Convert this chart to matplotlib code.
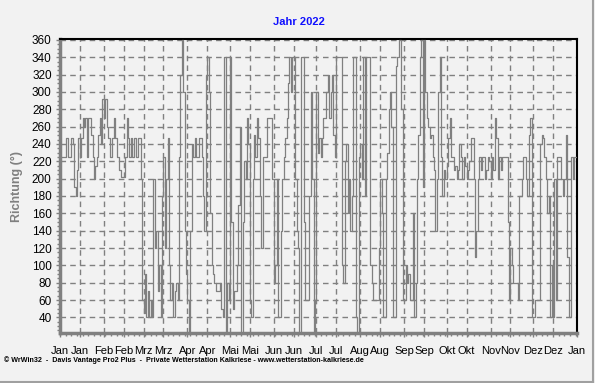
import numpy as np
import pandas as pd
import matplotlib
matplotlib.use("Agg")
import matplotlib.pyplot as plt
from matplotlib.lines import Line2D

# ==================================
# Data (daily wind direction, degrees)
# ==================================
year = 2022
richtung = [
    225, 225, 225, 225, 247, 247, 225, 225, 247, 240, 190, 180, 210, 247, 225, 247, 270, 260, 270, 225,
    270, 270, 250, 225, 200, 215, 225, 250, 270, 240, 292, 270, 292, 260, 247, 225, 225, 247, 270, 247,
    225, 225, 210, 202, 202, 202, 225, 270, 247, 225, 247, 225, 247, 247, 225, 247, 247, 200, 60, 45,
    90, 40, 70, 40, 60, 40, 200, 120, 140, 70, 100, 40, 180, 225, 120, 200, 247, 100, 60, 80,
    40, 70, 80, 60, 225, 320, 360, 300, 140, 90, 60, 20, 140, 240, 225, 247, 225, 225, 247, 247,
    225, 180, 140, 320, 340, 300, 160, 100, 90, 80, 70, 70, 70, 80, 50, 40, 340, 20, 80, 60,
    340, 150, 50, 70, 70, 100, 170, 260, 20, 150, 220, 200, 270, 240, 60, 40, 200, 250, 225, 270,
    247, 180, 120, 225, 225, 225, 270, 270, 270, 270, 200, 80, 100, 200, 40, 40, 140, 200, 225, 247,
    270, 310, 340, 300, 340, 340, 200, 140, 120, 20, 340, 340, 150, 60, 60, 60, 180, 300, 200, 20,
    60, 300, 230, 247, 225, 247, 270, 270, 300, 320, 270, 300, 320, 250, 225, 340, 340, 340, 340, 100,
    80, 220, 240, 160, 200, 140, 180, 340, 340, 40, 20, 225, 240, 200, 340, 180, 340, 340, 340, 100,
    80, 60, 60, 60, 60, 120, 200, 160, 40, 40, 200, 230, 280, 300, 260, 40, 40, 330, 340, 360,
    360, 280, 60, 60, 100, 80, 90, 60, 60, 160, 40, 80, 200, 250, 340, 360, 190, 360, 300, 270,
    260, 247, 250, 225, 210, 140, 200, 300, 340, 225, 180, 210, 200, 215, 247, 270, 225, 225, 210, 215,
    200, 210, 240, 225, 200, 225, 215, 200, 210, 220, 247, 247, 200, 110, 140, 200, 225, 210, 225, 225,
    200, 210, 225, 220, 200, 225, 210, 270, 247, 200, 225, 210, 225, 225, 225, 225, 150, 60, 120, 100,
    80, 80, 80, 60, 180, 180, 200, 225, 225, 200, 180, 250, 270, 40, 40, 60, 60, 60, 60, 240,
    250, 247, 225, 200, 160, 180, 40, 100, 40, 200, 60, 225, 225, 225, 200, 180, 200, 250, 110, 40,
    40, 225, 200, 225, 225,
]
monate = ["Jan", "Jan", "Feb", "Feb", "Mrz", "Mrz", "Apr", "Apr", "Mai", "Mai", "Jun", "Jun",
          "Jul", "Jul", "Aug", "Aug", "Sep", "Sep", "Okt", "Okt", "Nov", "Nov", "Dez", "Dez", "Jan"]
y_ticks = list(range(40, 361, 20))

dates = pd.date_range(f"{year}-01-01", periods=len(richtung), freq="D")
# extend the last step to the end of the year
x = list(dates) + [pd.Timestamp(f"{year + 1}-01-01")]
y = richtung + [richtung[-1]]

tick_dates = [pd.Timestamp(year, m, d) for m in range(1, 13) for d in (1, 15)] + [pd.Timestamp(year + 1, 1, 1)]

# ==================================
# Plot
# ==================================
plt.rcParams["font.family"] = ["Liberation Sans", "DejaVu Sans"]
bg = "#f2f2f2"
grau = "#808080"

fig = plt.figure(figsize=(5.95, 3.83), dpi=100, facecolor=bg)
ax = fig.add_axes([60 / 595, 1 - 333 / 383, 517 / 595, 294 / 383])
ax.set_facecolor(bg)

ax.step(x, y, where="post", color=grau, lw=0.9, zorder=3)

ax.set_xlim(x[0], x[-1])
ax.set_ylim(22, 361)
ax.set_yticks(y_ticks)
ax.set_yticks(np.arange(25, 361, 5), minor=True)
ax.set_xticks(tick_dates)
ax.set_xticklabels(monate)
minor_dates = pd.date_range(f"{year}-01-01", f"{year + 1}-01-01", freq="4D")
ax.set_xticks(minor_dates, minor=True)

ax.grid(True, which="major", color=grau, linestyle=(0, (4, 3)), lw=1.0, zorder=1)
ax.tick_params(axis="both", which="major", labelsize=8.5, length=3, width=1, color=grau, pad=3)
ax.tick_params(axis="x", which="major", labelsize=8, pad=6)
ax.tick_params(axis="both", which="minor", length=2, width=1, color=grau)

for side in ("left", "bottom"):
    ax.spines[side].set_color(grau)
    ax.spines[side].set_linewidth(2.5)
for side in ("top", "right"):
    ax.spines[side].set_color("black")
    ax.spines[side].set_linewidth(1.5)

ax.set_ylabel("Richtung (°)", color=grau, fontsize=9, fontweight="bold", labelpad=6)
fig.text(299 / 595, 1 - 22 / 383, f"Jahr {year}", color="#1010ff", fontsize=8,
         fontweight="bold", ha="center", va="center")
fig.text(4 / 595, 1 - 360 / 383,
         "© WrWin32  -  Davis Vantage Pro2 Plus  -  Private Wetterstation Kalkriese - www.wetterstation-kalkriese.de",
         fontsize=5.1, fontweight="bold", ha="left", va="center")

# figure frame
fig.add_artist(Line2D([592.5 / 595, 592.5 / 595], [1 - 381.5 / 383, 1], transform=fig.transFigure, color="#a0a0a0", lw=1.5))
fig.add_artist(Line2D([0, 592.5 / 595], [1 - 381.5 / 383, 1 - 381.5 / 383], transform=fig.transFigure, color="#a0a0a0", lw=1.5))

plt.savefig("out.png", dpi=100, facecolor=bg)
